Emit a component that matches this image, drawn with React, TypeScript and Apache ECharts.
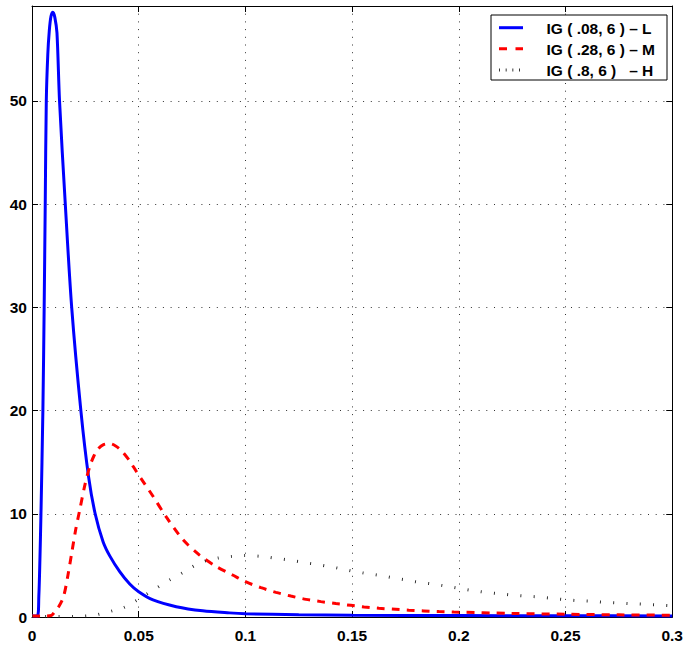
import React, { useEffect, useRef } from "react";
import * as echarts from "echarts";

// ---- data ----
const L_NAME = "IG ( .08, 6 ) – L";
const M_NAME = "IG ( .28, 6 ) – M";
const H_NAME = "IG ( .8, 6 )   – H";

const L_X = [0, 0.0025, 0.0032, 0.0037, 0.0042, 0.0051, 0.0057, 0.0062, 0.0067, 0.0074, 0.0081, 0.0089, 0.0098, 0.0107, 0.0117, 0.0129, 0.0156, 0.0186, 0.0229, 0.0265, 0.0296, 0.0333, 0.0365, 0.0411, 0.0458, 0.05, 0.0567, 0.0676, 0.08, 0.0925, 0.1, 0.125, 0.15, 0.2, 0.25, 0.3];
const L_Y = [0.1, 0.1, 2, 5.5, 10, 20, 30, 40, 50, 54.5, 56.8, 58.2, 58.6, 58.1, 56.6, 50, 40, 30, 20, 13.6, 10, 7.3, 5.9, 4.4, 3.2, 2.45, 1.65, 1.0, 0.6, 0.4, 0.32, 0.22, 0.18, 0.14, 0.12, 0.1];

const M_X = [0, 0.005, 0.009, 0.0101, 0.0125, 0.0148, 0.0168, 0.0187, 0.0205, 0.0222, 0.0249, 0.0271, 0.029, 0.031, 0.0335, 0.0362, 0.039, 0.042, 0.0455, 0.0489, 0.0528, 0.0567, 0.0629, 0.0707, 0.0785, 0.0863, 0.094, 0.1003, 0.1073, 0.1143, 0.1213, 0.1284, 0.1354, 0.1424, 0.1494, 0.1556, 0.1626, 0.1704, 0.1766, 0.1836, 0.1907, 0.1977, 0.225, 0.25, 0.275, 0.3];
const M_Y = [0.1, 0.1, 0.15, 0.36, 1.0, 2.0, 4.0, 6.3, 8.5, 10.2, 12.9, 14.6, 15.6, 16.3, 16.7, 16.8, 16.6, 16.1, 15.2, 14.1, 12.9, 11.7, 9.7, 7.5, 6.0, 4.9, 4.07, 3.4, 2.84, 2.39, 2.03, 1.71, 1.49, 1.3, 1.13, 0.98, 0.85, 0.74, 0.66, 0.59, 0.53, 0.48, 0.35, 0.27, 0.21, 0.17];

const H_X = [0, 0.02, 0.0287, 0.0333, 0.038, 0.0427, 0.0474, 0.0528, 0.0583, 0.0645, 0.0707, 0.077, 0.0824, 0.0879, 0.094, 0.1, 0.1081, 0.1143, 0.1205, 0.1268, 0.133, 0.1393, 0.1455, 0.15, 0.1563, 0.1626, 0.1688, 0.175, 0.1813, 0.1875, 0.1938, 0.2, 0.2062, 0.2125, 0.2187, 0.2249, 0.2312, 0.2374, 0.2436, 0.2499, 0.2561, 0.2623, 0.2685, 0.2748, 0.281, 0.2872, 0.2935, 0.3];
const H_Y = [0.05, 0.05, 0.16, 0.36, 0.62, 0.9, 1.4, 2.1, 2.8, 3.6, 4.3, 5.07, 5.5, 5.74, 5.88, 5.95, 5.86, 5.68, 5.52, 5.3, 5.1, 4.88, 4.65, 4.45, 4.23, 4.04, 3.81, 3.59, 3.36, 3.2, 3.0, 2.78, 2.57, 2.39, 2.26, 2.13, 2.03, 1.94, 1.81, 1.68, 1.58, 1.52, 1.42, 1.36, 1.29, 1.23, 1.16, 1.1];

const X_MIN = 0;
const X_MAX = 0.3;
const X_STEP = 0.05;
const Y_MIN = 0;
const Y_MAX = 59.2;
const Y_STEP = 10;

const zip = (xs: number[], ys: number[]) => xs.map((x, i) => [x, ys[i]]);

const FONT = "'Liberation Sans', Arial, Helvetica, sans-serif";

export default function App() {
  const ref = useRef<HTMLDivElement>(null);
  useEffect(() => {
    if (!ref.current) return;
    const chart = echarts.init(ref.current, undefined, { renderer: "svg" });
    const labelStyle = {
      color: "#000",
      fontFamily: FONT,
      fontWeight: "bold" as const,
      fontSize: 15.5,
    };
    const gridLine = {
      show: true,
      lineStyle: { color: "#333", width: 1, type: [1, 6.7] as number[] },
    };
    const axisLine = { show: true, onZero: false, lineStyle: { color: "#000", width: 1 } };
    const tick = { show: true, inside: true, length: 6, lineStyle: { color: "#000", width: 1 } };
    const legendX = 491;
    const legendY = 15;
    const rows = [27.7, 48.7, 70];
    const option: any = {
      animation: false,
      backgroundColor: "#fff",
      grid: { left: 32, right: 12, top: 6, bottom: 30, containLabel: false },
      xAxis: [
        {
          type: "value",
          position: "bottom",
          min: X_MIN,
          max: X_MAX,
          interval: X_STEP,
          axisLine,
          axisTick: tick,
          axisLabel: { ...labelStyle, margin: 10 },
          splitLine: gridLine,
        },
        {
          type: "value",
          position: "top",
          min: X_MIN,
          max: X_MAX,
          interval: X_STEP,
          axisLine,
          axisTick: tick,
          axisLabel: { show: false },
          splitLine: { show: false },
        },
      ],
      yAxis: [
        {
          type: "value",
          position: "left",
          min: Y_MIN,
          max: Y_MAX,
          interval: Y_STEP,
          axisLine,
          axisTick: tick,
          axisLabel: { ...labelStyle, margin: 5, showMaxLabel: false },
          splitLine: gridLine,
        },
        {
          type: "value",
          position: "right",
          min: Y_MIN,
          max: Y_MAX,
          interval: Y_STEP,
          axisLine,
          axisTick: tick,
          axisLabel: { show: false },
          splitLine: { show: false },
        },
      ],
      series: [
        {
          name: L_NAME,
          type: "line",
          data: zip(L_X, L_Y),
          symbol: "none",
          smooth: 0.3,
          lineStyle: { color: "#0000ff", width: 3 },
          z: 3,
        },
        {
          name: M_NAME,
          type: "line",
          data: zip(M_X, M_Y),
          symbol: "none",
          smooth: 0.3,
          lineStyle: { color: "#ff0000", width: 3, type: [8, 7] },
          z: 4,
        },
        {
          name: H_NAME,
          type: "line",
          data: zip(H_X, H_Y),
          symbol: "none",
          smooth: 0.3,
          lineStyle: { color: "#222", width: 3, type: [0.9, 12.4] },
          z: 5,
        },
      ],
      graphic: [
        {
          type: "rect",
          shape: { x: legendX, y: legendY, width: 176, height: 65 },
          style: { fill: "#fff", stroke: "#000", lineWidth: 1 },
          z: 100,
        },
        {
          type: "line",
          shape: { x1: 499, y1: rows[0], x2: 523, y2: rows[0] },
          style: { stroke: "#0000ff", lineWidth: 3 },
          z: 101,
        },
        {
          type: "line",
          shape: { x1: 499, y1: rows[1], x2: 523, y2: rows[1] },
          style: { stroke: "#ff0000", lineWidth: 3, lineDash: [8, 8.5] },
          z: 101,
        },
        {
          type: "line",
          shape: { x1: 499, y1: rows[2], x2: 523, y2: rows[2] },
          style: { stroke: "#222", lineWidth: 3, lineDash: [0.9, 5.8] },
          z: 101,
        },
        ...[L_NAME, M_NAME, H_NAME].map((t, i) => ({
          type: "text",
          x: 546.5,
          y: rows[i] + 0.8,
          style: {
            text: t,
            fill: "#000",
            font: `bold 15.5px ${FONT}`,
            verticalAlign: "middle",
            align: "left",
          },
          z: 101,
        })),
      ],
    };
    chart.setOption(option);
    return () => chart.dispose();
  }, []);
  return (
    <div
      ref={ref}
      style={{ position: "fixed", left: 0, top: 0, width: 686, height: 647, background: "#fff" }}
    />
  );
}
